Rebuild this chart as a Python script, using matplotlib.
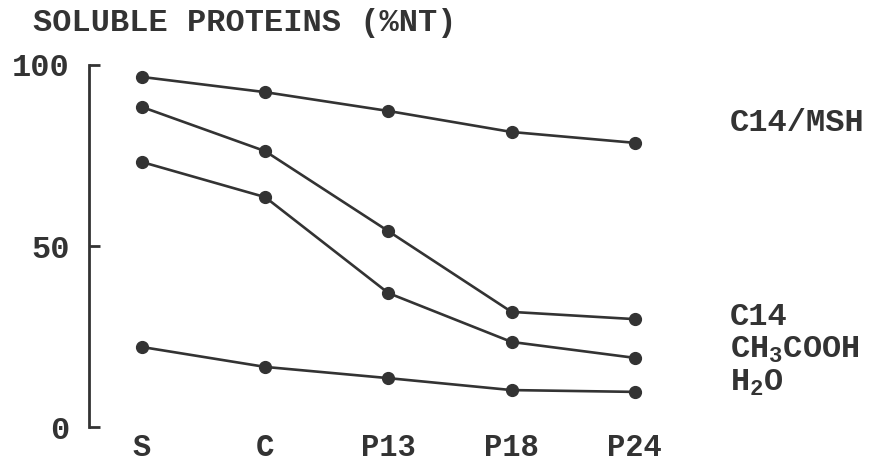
import matplotlib.pyplot as plt

plt.rcParams['font.family'] = ['Liberation Mono', 'DejaVu Sans']
plt.rcParams['font.weight'] = 'bold'
plt.rcParams['mathtext.default'] = 'regular'

categories = ['S', 'C', 'P13', 'P18', 'P24']
c14_msh = [96.7, 92.5, 87.3, 81.5, 78.5]
c14 = [88.4, 76.2, 54.1, 31.8, 29.8]
ch3cooh = [73.2, 63.5, 37.0, 23.5, 19.1]
h2o = [22.1, 16.6, 13.5, 10.2, 9.7]
series = [c14_msh, c14, ch3cooh, h2o]
labels = ['C14/MSH', 'C14', r'CH$_3$COOH', r'H$_2$O']
label_y = [123, 317, 350, 383]  # pixel rows of the labels on the right

ink = '#333333'
W, H = 875, 461

fig = plt.figure(figsize=(8.75, 4.61), dpi=100)
ax = fig.add_axes([89/W, 34/H, (700-89)/W, (427-65)/H])

x = range(len(categories))
for s in series:
    ax.plot(x, s, color=ink, lw=1.9, marker='o', ms=8.5, clip_on=False)

ax.set_ylim(0, 100)
ax.set_xlim(-0.43, 4.53)
for side in ['top', 'right', 'bottom']:
    ax.spines[side].set_visible(False)
ax.spines['left'].set_linewidth(2.0)
ax.spines['left'].set_color(ink)

ax.set_yticks([0, 50, 100])
ax.set_yticklabels(['0', '50', '100'])
ax.tick_params(axis='y', direction='in', length=8, width=2.0, color=ink,
               pad=14, labelsize=23, labelcolor=ink)
ax.set_xticks(list(x))
ax.set_xticklabels(categories)
ax.tick_params(axis='x', length=0, pad=4, labelsize=22, labelcolor=ink)

fig.text(33/W, 1 - 23/H, 'SOLUBLE PROTEINS (%NT)', fontsize=23,
         color=ink, va='center', ha='left')
for lab, py in zip(labels, label_y):
    fig.text(730/W, 1 - py/H, lab, fontsize=23, color=ink,
             va='center', ha='left')

fig.savefig('out.png', dpi=100, facecolor='white')
